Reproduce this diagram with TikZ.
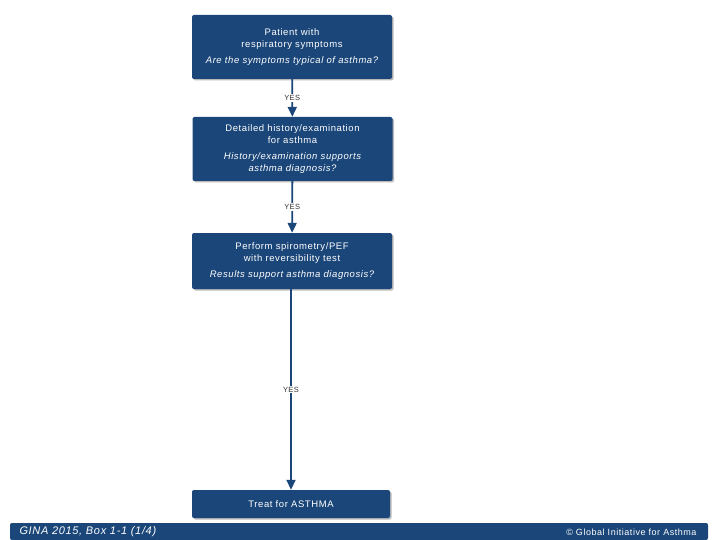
\documentclass[tikz,border=0pt]{standalone}
\usepackage{fontspec}
\setmainfont{Liberation Sans}
\usetikzlibrary{arrows.meta,shadows}
\definecolor{ginablue}{RGB}{27,70,121}
\newfontfamily\spaced[LetterSpace=6]{Liberation Sans}

\begin{document}
\begin{tikzpicture}[x=1pt,y=-1pt,>={Triangle[width=9pt,length=10pt]},
  box/.style={fill=ginablue,text=white,minimum width=200pt,rounded corners=2pt,align=center,
    drop shadow={shadow xshift=1.5pt,shadow yshift=-1.5pt,fill=black!45,opacity=.6},
    font=\spaced\fontsize{9.5}{12}\selectfont},
  yes/.style={fill=white,inner sep=1pt,font=\spaced\fontsize{7.5}{8}\selectfont,text=black!80},
  link/.style={->,draw=ginablue,line width=1.8pt}]
\useasboundingbox (0,0) rectangle (720,540);
\node[box,minimum height=64pt] (symptoms) at (292,47)
  {Patient with\\respiratory symptoms\\[4pt]\itshape Are the symptoms typical of asthma?};
\node[box,minimum height=64pt] (history) at (292.5,149)
  {Detailed history/examination\\for asthma\\[4pt]\itshape History/examination supports\\\itshape asthma diagnosis?};
\node[box,minimum height=56pt] (spiro) at (292,261)
  {Perform spirometry/PEF\\with reversibility test\\[4pt]\itshape Results support asthma diagnosis?};
\node[box,minimum height=28pt,minimum width=198pt] (treat) at (291,504) {Treat for ASTHMA};
\draw[link] (symptoms) -- node[yes] {YES} (history);
\draw[link] (history) -- node[yes] {YES} (spiro);
\draw[link] (spiro.south -| treat) -- node[yes] {YES} (treat);
% footer bar
\fill[ginablue,rounded corners=2pt] (10,540) |- (708,523) -- (708,540) -- cycle;
\node[anchor=west,text=white,font=\spaced\fontsize{11}{12}\selectfont\itshape] (source) at (16,531.5) {GINA 2015, Box 1-1 (1/4)};
\node[anchor=east,text=white,font=\spaced\fontsize{9}{10}\selectfont] (copyright) at (700,532) {\textcopyright\ Global Initiative for Asthma};
\end{tikzpicture}
\end{document}
